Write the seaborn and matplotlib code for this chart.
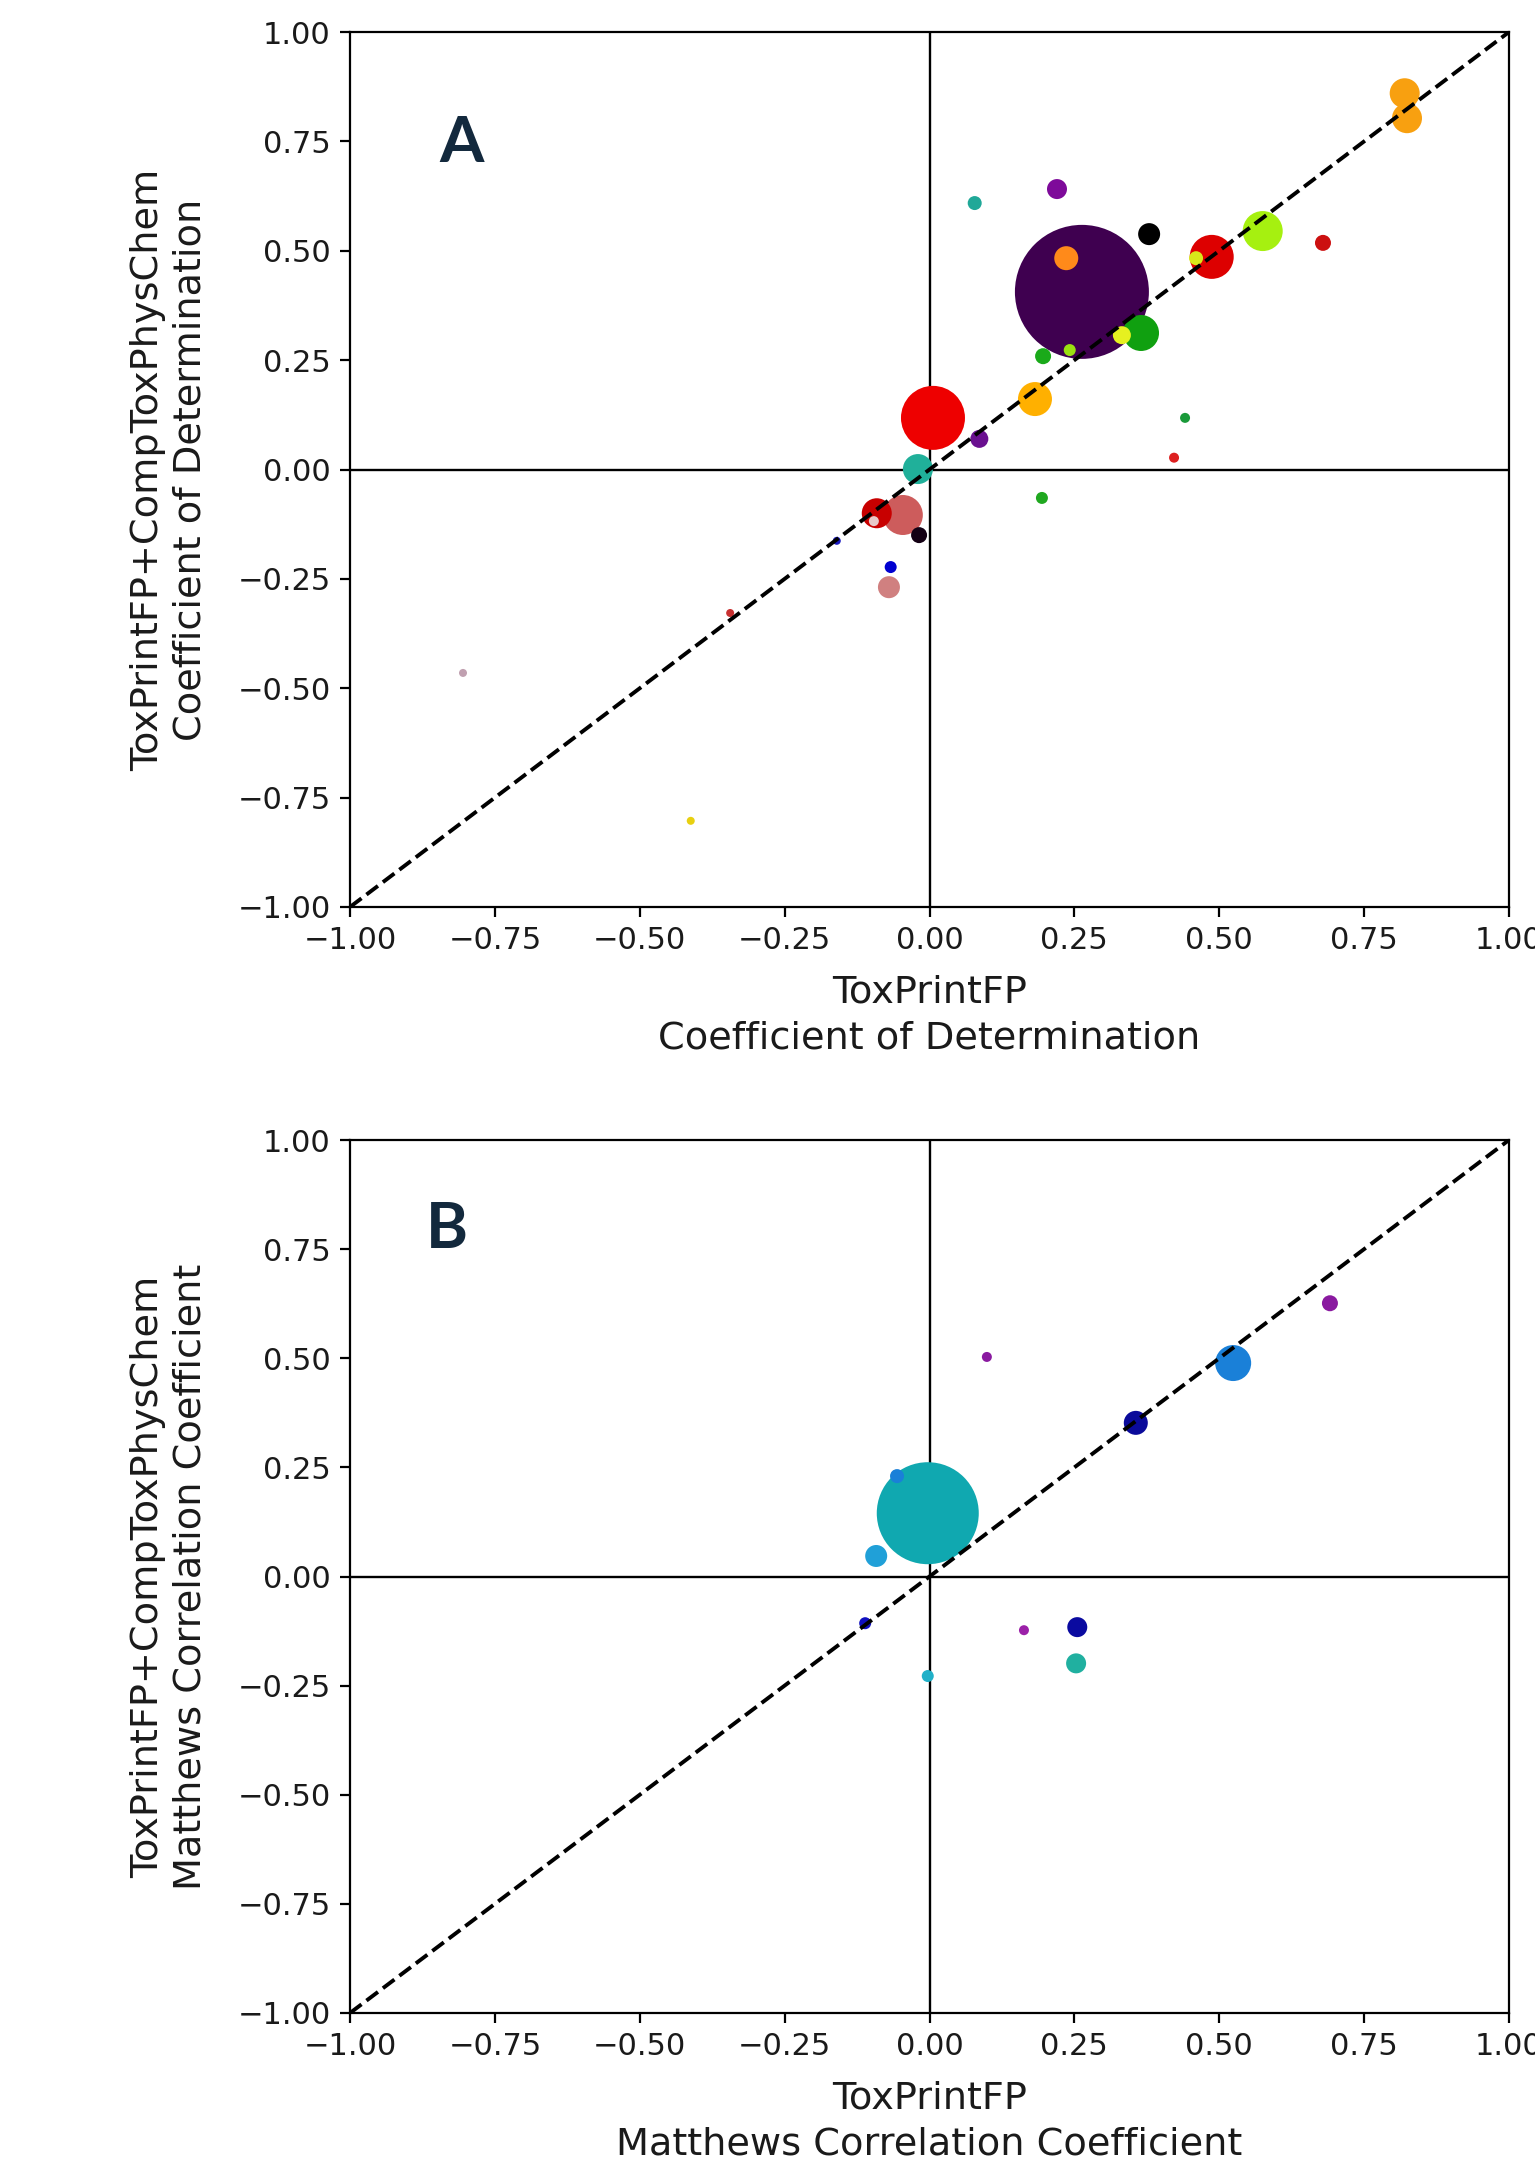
import matplotlib
matplotlib.use("Agg")
import matplotlib.pyplot as plt
import seaborn as sns
import pandas as pd

# ---------------- Panel A data (Coefficient of Determination) ----------------
x_a = [0.263, 0.006, 0.487, 0.575, -0.046, 0.365, 0.182, -0.020, -0.091, 0.820,
       0.824, 0.236, -0.070, 0.379, 0.220, 0.332, 0.086, -0.018, 0.679, 0.196,
       0.078, 0.460, 0.242, 0.194, -0.067, -0.096, 0.441, 0.422, -0.160, -0.805,
       -0.344, -0.412]
y_a = [0.406, 0.118, 0.486, 0.545, -0.104, 0.312, 0.161, 0.001, -0.100, 0.860,
       0.803, 0.483, -0.269, 0.538, 0.641, 0.307, 0.070, -0.150, 0.518, 0.259,
       0.609, 0.483, 0.273, -0.065, -0.223, -0.118, 0.118, 0.027, -0.163, -0.465,
       -0.328, -0.803]
weight_a = [4489, 1024, 484, 400, 400, 324, 289, 225, 225, 225,
            225, 144, 121, 121, 100, 81, 81, 64, 64, 64,
            49, 49, 36, 36, 36, 25, 25, 25, 16, 16,
            16, 16]
colors_a = ["#3f0050", "#ee0000", "#dd0000", "#a6f010", "#cd5c5c", "#10a010", "#ffb000",
            "#20b09a", "#c80000", "#f8a010", "#f8a010", "#ff8a1a", "#d08080", "#000000",
            "#7e0a9a", "#e6f020", "#6a1090", "#140014", "#cc1010", "#1aaa1a", "#20a898",
            "#d8e81a", "#9ae010", "#20a820", "#0000d0", "#e8c8c8", "#1a9a3a", "#dd2020",
            "#1a1ac0", "#c0a0b0", "#c83030", "#e8d010"]

# ---------------- Panel B data (Matthews Correlation Coefficient) ----------------
x_b = [-0.003, 0.524, 0.356, -0.092, 0.255, 0.253, 0.691, -0.056, -0.111, -0.003,
       0.099, 0.163]
y_b = [0.145, 0.489, 0.352, 0.047, -0.116, -0.199, 0.626, 0.230, -0.107, -0.228,
       0.503, -0.123]
weight_b = [2601, 324, 144, 121, 100, 100, 64, 49, 36, 36, 25, 25]
colors_b = ["#10a8b0", "#1a80d8", "#0a0a9a", "#20a0d8", "#0a0aa0", "#20b0a0", "#8a1aa0",
            "#1a80d8", "#1010c0", "#20b0c8", "#8a1aa0", "#9b20a8"]

ticks = [-1.0, -0.75, -0.5, -0.25, 0.0, 0.25, 0.5, 0.75, 1.0]

sns.set_style("ticks")
plt.rcParams["font.family"] = ["DejaVu Sans"]

fig = plt.figure(figsize=(15.35, 21.75), dpi=100)
ax_a = fig.add_axes([350 / 1535, 1 - 907 / 2175, 1159 / 1535, 875 / 2175])
ax_b = fig.add_axes([350 / 1535, 1 - 2013 / 2175, 1159 / 1535, 873 / 2175])

PT2 = 2.0736  # px^2 -> pt^2 factor for marker area


def draw(ax, xs, ys, ws, cols, letter, lpos, metric):
    df = pd.DataFrame({"x": xs, "y": ys, "w": ws,
                       "id": [f"p{i}" for i in range(len(xs))]})
    pal = {f"p{i}": c for i, c in enumerate(cols)}
    ax.axhline(0, color="black", lw=1.7, zorder=1)
    ax.axvline(0, color="black", lw=1.7, zorder=1)
    sns.scatterplot(data=df, x="x", y="y", hue="id", palette=pal, size="w",
                    sizes=(PT2 * min(ws), PT2 * max(ws)), size_norm=(min(ws), max(ws)),
                    linewidth=0, alpha=1, legend=False, ax=ax, zorder=2)
    ax.axline((0, 0), slope=1, color="black", ls="--", lw=2.8, zorder=3)
    ax.set_xlim(-1, 1)
    ax.set_ylim(-1, 1)
    ax.set_xticks(ticks)
    ax.set_yticks(ticks)
    ax.set_xticklabels([f"{t:.2f}".replace("-", "\u2212") for t in ticks])
    ax.set_yticklabels([f"{t:.2f}".replace("-", "\u2212") for t in ticks])
    ax.tick_params(axis="both", labelsize=22, length=7, width=1.6, pad=7,
                   colors="black", labelcolor="#1a1a1a")
    for sp in ax.spines.values():
        sp.set_visible(True)
        sp.set_linewidth(1.6)
        sp.set_color("black")
    ax.set_xlabel(f"ToxPrintFP\n{metric}", fontsize=27.5, color="#1a1a1a",
                  labelpad=14, linespacing=1.36)
    ax.set_ylabel(f"ToxPrintFP+CompToxPhysChem\n{metric}", fontsize=27.5,
                  color="#1a1a1a", linespacing=1.24)
    ax.yaxis.set_label_coords(-0.122, 0.5)
    ax.text(lpos[0], lpos[1], letter, fontsize=46, fontweight="bold",
            family=["Lato", "DejaVu Sans"], color="#13293d",
            ha="center", va="center", zorder=4)


draw(ax_a, x_a, y_a, weight_a, colors_a, "A", (-0.807, 0.745),
     "Coefficient of Determination")
draw(ax_b, x_b, y_b, weight_b, colors_b, "B", (-0.833, 0.795),
     "Matthews Correlation Coefficient")

fig.savefig("out.png", dpi=100, facecolor="white")
